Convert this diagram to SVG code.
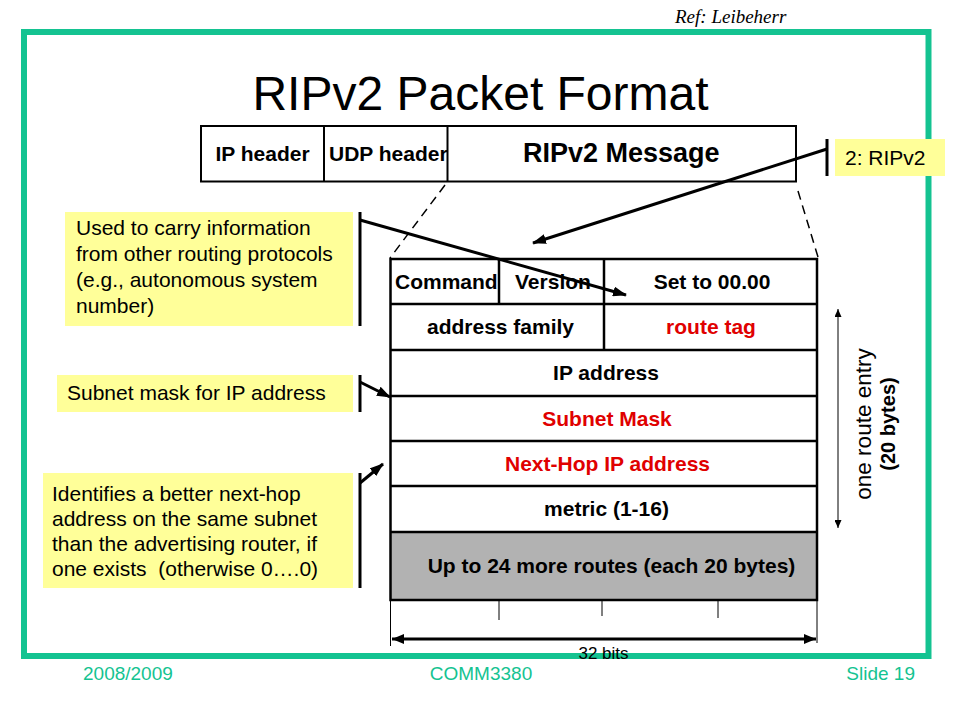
<svg xmlns="http://www.w3.org/2000/svg" width="960" height="720" viewBox="0 0 960 720">
<style>
text{font-family:"Liberation Sans",Arial,sans-serif;fill:#000}
.b{font-weight:bold;font-size:21px}
.red{fill:#E00000}
.cell{fill:none;stroke:#000;stroke-width:2.5}
.hdr{fill:none;stroke:#000;stroke-width:2}
.note{fill:#FFFF99;stroke:none}
.ntext{font-size:21px;white-space:pre}
.foot{font-size:19px;fill:#14C391}
.ptr{stroke:#000;stroke-width:3;fill:none}
.dash{stroke:#000;stroke-width:1.5;stroke-dasharray:9,6;fill:none}
.thin{stroke:#000;stroke-width:1;fill:none}
</style>
<defs>
<marker id="ah" markerUnits="userSpaceOnUse" markerWidth="14" markerHeight="10" refX="13" refY="5" orient="auto">
<path d="M0,0 L14,5 L0,10 z" fill="#000"/>
</marker>
<marker id="ahs" markerUnits="userSpaceOnUse" markerWidth="8" markerHeight="7" refX="8" refY="3.5" orient="auto-start-reverse">
<path d="M0,0 L8,3.5 L0,7 z" fill="#000"/>
</marker>
<marker id="ahd" markerUnits="userSpaceOnUse" markerWidth="12" markerHeight="10" refX="12" refY="5" orient="auto-start-reverse">
<path d="M0,0 L12,5 L0,10 z" fill="#000"/>
</marker>
</defs>
<rect width="960" height="720" fill="#fff"/>

<g id="frame">
<rect x="24" y="32" width="904.5" height="624" fill="none" stroke="#14C391" stroke-width="6"/>
</g>

<g id="ref"><text x="675" y="23" style="font-family:'Liberation Serif','Times New Roman',serif;font-style:italic;font-size:19px">Ref: Leibeherr</text></g>
<g id="title"><text x="480.5" y="110" text-anchor="middle" style="font-size:48px">RIPv2 Packet Format</text></g>

<g id="packet">
<rect class="hdr" x="201" y="126" width="595" height="55.5"/>
<line class="hdr" x1="324" y1="126" x2="324" y2="181.5"/>
<line class="hdr" x1="447.5" y1="126" x2="447.5" y2="181.5"/>
<text class="b" x="262.5" y="161" text-anchor="middle">IP header</text>
<text class="b" x="329" y="161">UDP header</text>
<text x="523" y="162" style="font-weight:bold;font-size:27px">RIPv2 Message</text>
</g>

<g id="table">
<rect x="390.5" y="532" width="426.5" height="68" fill="#B2B2B2"/>
<rect class="cell" x="390.5" y="259" width="426.5" height="341"/>
<line class="cell" x1="390.5" y1="304" x2="817" y2="304"/>
<line class="cell" x1="390.5" y1="350" x2="817" y2="350"/>
<line class="cell" x1="390.5" y1="396" x2="817" y2="396"/>
<line class="cell" x1="390.5" y1="441" x2="817" y2="441"/>
<line class="cell" x1="390.5" y1="486" x2="817" y2="486"/>
<line class="cell" x1="390.5" y1="532" x2="817" y2="532"/>
<line class="cell" x1="499" y1="259" x2="499" y2="304"/>
<line class="cell" x1="604" y1="259" x2="604" y2="350"/>
<text class="b" x="395" y="288.5">Command</text>
<text class="b" x="515" y="288.5">Version</text>
<text class="b" x="712" y="288.5" text-anchor="middle">Set to 00.00</text>
<text class="b" x="500.5" y="334" text-anchor="middle">address family</text>
<text class="b red" x="711" y="334" text-anchor="middle">route tag</text>
<text class="b" x="606" y="380" text-anchor="middle">IP address</text>
<text class="b red" x="607" y="425.5" text-anchor="middle">Subnet Mask</text>
<text class="b red" x="607.5" y="470.5" text-anchor="middle">Next-Hop IP address</text>
<text class="b" x="606.5" y="516" text-anchor="middle">metric (1-16)</text>
<text class="b" x="611.5" y="573" text-anchor="middle">Up to 24 more routes (each 20 bytes)</text>
</g>

<g id="width-dimension">
<line class="thin" x1="390.5" y1="600" x2="390.5" y2="646"/>
<line class="thin" x1="817" y1="600" x2="817" y2="643"/>
<line class="thin" x1="499" y1="600" x2="499" y2="620"/>
<line class="thin" x1="602" y1="600" x2="602" y2="616"/>
<line class="thin" x1="718" y1="600" x2="718" y2="618"/>
<line x1="392" y1="639" x2="816" y2="639" stroke="#000" stroke-width="3" marker-start="url(#ahd)" marker-end="url(#ahd)"/>
<text x="603.5" y="658.5" text-anchor="middle" style="font-size:17px">32 bits</text>
</g>

<g id="entry-dimension">
<line class="thin" x1="838" y1="309" x2="838" y2="528" marker-start="url(#ahs)" marker-end="url(#ahs)"/>
<text transform="translate(870.5,424) rotate(-90)" text-anchor="middle" style="font-size:22.5px">one route entry</text>
<text transform="translate(895,424) rotate(-90)" text-anchor="middle" style="font-size:20px;font-weight:bold">(20 bytes)</text>
</g>

<g id="note-ripv2">
<rect class="note" x="835" y="139" width="110" height="37"/>
<text x="845" y="165" style="font-size:21px">2: RIPv2</text>
</g>

<g id="note-routetag">
<rect class="note" x="65" y="212" width="288" height="114"/>
<text class="ntext" x="76" y="235">Used to carry information</text>
<text class="ntext" x="76" y="261">from other routing protocols</text>
<text class="ntext" x="76" y="287">(e.g., autonomous system</text>
<text class="ntext" x="76" y="313">number)</text>
</g>

<g id="note-subnet">
<rect class="note" x="57" y="375" width="296" height="37"/>
<text class="ntext" x="67" y="399.5">Subnet mask for IP address</text>
</g>

<g id="note-nexthop">
<rect class="note" x="43" y="473" width="310" height="115"/>
<text class="ntext" x="52" y="501">Identifies a better next-hop</text>
<text class="ntext" x="52" y="526">address on the same subnet</text>
<text class="ntext" x="52" y="551">than the advertising router, if</text>
<text class="ntext" x="52" y="576" xml:space="preserve">one exists  (otherwise 0….0)</text>
</g>

<g id="connectors">
<line class="dash" x1="445" y1="185" x2="390" y2="258"/>
<line class="dash" x1="798" y1="191" x2="818" y2="257"/>
<line class="ptr" x1="827" y1="139" x2="827" y2="176"/>
<line class="ptr" x1="827" y1="149" x2="533" y2="243" marker-end="url(#ah)"/>
<line class="ptr" x1="360" y1="212" x2="360" y2="326"/>
<line class="ptr" x1="360" y1="220" x2="626" y2="295" marker-end="url(#ah)"/>
<line class="ptr" x1="360" y1="375" x2="360" y2="412"/>
<line class="ptr" x1="360" y1="382" x2="390" y2="397" marker-end="url(#ah)"/>
<line class="ptr" x1="360" y1="473" x2="360" y2="588"/>
<line class="ptr" x1="360" y1="483" x2="383" y2="464" marker-end="url(#ah)"/>
</g>

<g id="footer">
<text class="foot" x="83" y="680">2008/2009</text>
<text class="foot" x="481" y="680" text-anchor="middle">COMM3380</text>
<text class="foot" x="915" y="680" text-anchor="end">Slide 19</text>
</g>
</svg>
